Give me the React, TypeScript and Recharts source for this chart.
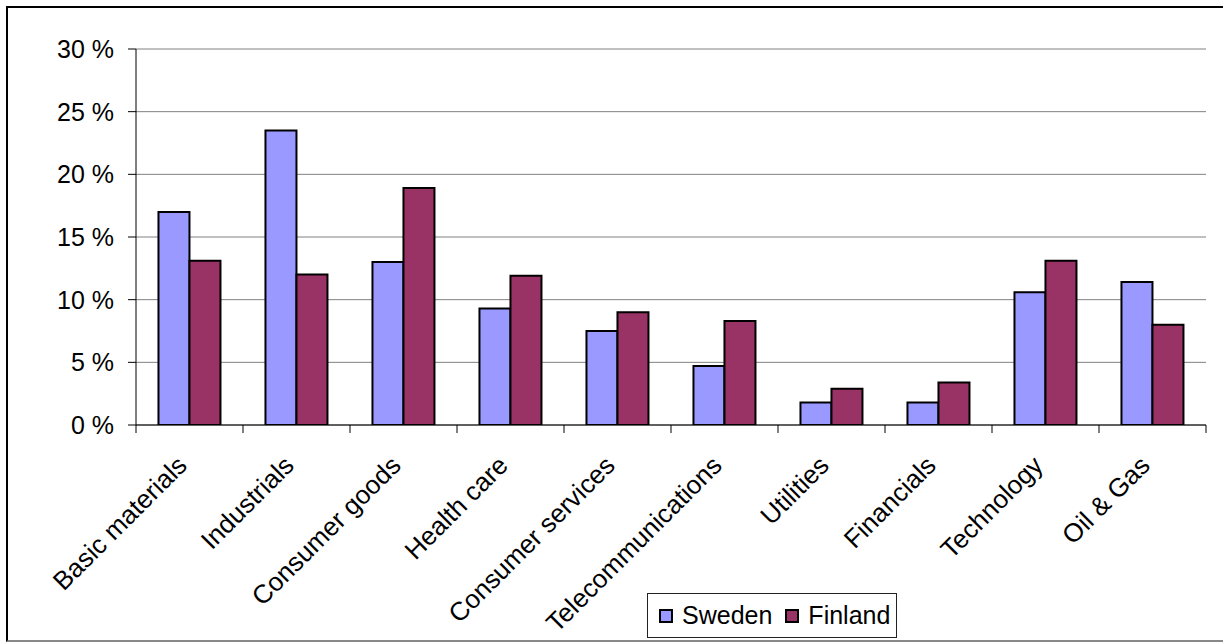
import React from 'react';
import { BarChart, Bar, XAxis, YAxis, CartesianGrid, Legend } from 'recharts';

const categories = [
  'Basic materials',
  'Industrials',
  'Consumer goods',
  'Health care',
  'Consumer services',
  'Telecommunications',
  'Utilities',
  'Financials',
  'Technology',
  'Oil & Gas',
];
const sweden = [17.0, 23.5, 13.0, 9.3, 7.5, 4.7, 1.8, 1.8, 10.6, 11.4];
const finland = [13.1, 12.0, 18.9, 11.9, 9.0, 8.3, 2.9, 3.4, 13.1, 8.0];
const yTicks = [0, 5, 10, 15, 20, 25, 30];

const seriesNames = ['Sweden', 'Finland'];
const seriesColors = ['#9999FF', '#993366'];

const data = categories.map((name, i) => ({
  name,
  Sweden: sweden[i],
  Finland: finland[i],
}));

const FONT = '"Liberation Sans", Arial, sans-serif';

// Category label rotated 45°, with tick marks drawn on the band boundaries
function CategoryTick(props: any) {
  const { x, y, payload, index } = props;
  const half = payload && typeof payload.offset === 'number' && payload.offset > 0 ? payload.offset : 53.5;
  const top = y - 8;
  const last = index === categories.length - 1;
  const ax = x - 1;
  const ay = y + 34;
  return (
    <g>
      <line x1={x - half} y1={top} x2={x - half} y2={top + 8} stroke="#000" strokeWidth={1} />
      {last && <line x1={x + half} y1={top} x2={x + half} y2={top + 8} stroke="#000" strokeWidth={1} />}
      <text
        x={ax}
        y={ay}
        transform={`rotate(-45, ${ax}, ${ay})`}
        textAnchor="end"
        fontFamily={FONT}
        fontSize={26}
        fill="#000"
      >
        {payload.value}
      </text>
    </g>
  );
}

function LegendBox() {
  return (
    <div
      style={{
        boxSizing: 'border-box',
        width: 250,
        height: 45,
        border: '1px solid #222',
        background: '#fff',
        display: 'flex',
        alignItems: 'center',
        paddingLeft: 11,
        fontFamily: FONT,
        fontSize: 25,
        color: '#000',
      }}
    >
      {seriesNames.map((n, i) => (
        <span key={n} style={{ display: 'flex', alignItems: 'center', marginRight: 13 }}>
          <span
            style={{
              display: 'inline-block',
              boxSizing: 'border-box',
              width: 14,
              height: 14,
              background: seriesColors[i],
              border: '2px solid #000',
              marginRight: 9,
            }}
          />
          <span>{n}</span>
        </span>
      ))}
    </div>
  );
}

export default function App() {
  return (
    <div style={{ position: 'absolute', left: 0, top: 0, width: 1223, height: 644, overflow: 'hidden', background: '#fff' }}>
      <div
        style={{
          position: 'absolute',
          left: 6,
          top: 6,
          width: 1240,
          height: 636,
          boxSizing: 'border-box',
          borderTop: '2px solid #000',
          borderLeft: '2px solid #000',
          borderBottom: '2px solid #888',
        }}
      />
      <div style={{ position: 'absolute', left: 0, top: 0 }}>
        <BarChart
          width={1223}
          height={644}
          data={data}
          margin={{ top: 49, right: 17, bottom: 0, left: 0 }}
          barCategoryGap="21%"
          barGap={0}
        >
          <CartesianGrid vertical={false} stroke="#808080" strokeWidth={1} />
          <XAxis
            dataKey="name"
            interval={0}
            axisLine={{ stroke: '#000', strokeWidth: 1 }}
            tickLine={false}
            tickSize={8}
            tickMargin={0}
            tick={<CategoryTick />}
            height={219}
          />
          <YAxis
            width={136}
            domain={[0, 30]}
            ticks={yTicks}
            interval={0}
            allowDataOverflow
            axisLine={{ stroke: '#000', strokeWidth: 1 }}
            tickLine={{ stroke: '#000', strokeWidth: 1 }}
            tickSize={8}
            tickMargin={14}
            tickFormatter={(v: number) => `${v} %`}
            tick={{ fontFamily: FONT, fontSize: 25, fill: '#000' }}
          />
          <YAxis
            yAxisId="frame"
            orientation="right"
            width={0}
            domain={[0, 30]}
            tick={false}
            tickLine={false}
            axisLine={{ stroke: '#8c8c8c', strokeWidth: 2 }}
          />
          <Legend
            layout="horizontal"
            verticalAlign="middle"
            align="center"
            wrapperStyle={{ left: 647, top: 593, width: 250, height: 45 }}
            content={<LegendBox />}
          />
          {seriesNames.map((n, i) => (
            <Bar
              key={n}
              dataKey={n}
              fill={seriesColors[i]}
              stroke="#000"
              strokeWidth={2}
              isAnimationActive={false}
            />
          ))}
        </BarChart>
      </div>
    </div>
  );
}
